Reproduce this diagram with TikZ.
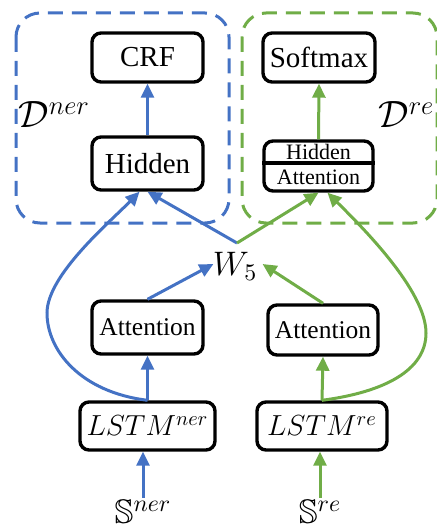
\RequirePackage{fix-cm}
\documentclass[tikz,border=0pt]{standalone}
\usepackage{amssymb}
\usepackage{fontspec}
\setmainfont{Liberation Serif}
\usetikzlibrary{arrows.meta}
\definecolor{blueC}{HTML}{4472C4}
\definecolor{greenC}{HTML}{70AD47}
\begin{document}
\begin{tikzpicture}[x=0.5pt,y=-0.5pt,
  box/.style={draw=black, line width=1.7pt, rounded corners=4.5pt, fill=white, inner sep=0pt, font=\fontsize{14.5}{17}\selectfont},
  attbox/.style={box, font=\fontsize{12.75}{15}\selectfont},
  small/.style={inner sep=0pt, font=\fontsize{11}{13}\selectfont},
  lab/.style={inner sep=1pt, font=\fontsize{17}{20}\selectfont},
  dlab/.style={anchor=base west, inner sep=0pt, font=\fontsize{19}{22}\selectfont},
  bl/.style={draw=blueC, line width=1.5pt, -{Triangle[length=7pt,width=6.5pt]}},
  gr/.style={draw=greenC, line width=1.5pt, -{Triangle[length=7pt,width=6.5pt]}},
  dbox/.style={dash pattern=on 7.5pt off 4.5pt, line width=1.5pt, rounded corners=12pt}]
\useasboundingbox (0,0) rectangle (437,529);

% dashed groups
\draw[dbox, draw=blueC] (16,13) rectangle (229,223);
\draw[dbox, draw=greenC] (242,13) rectangle (437,223);

% top nodes
\node[box, minimum width=55.5pt, minimum height=24.5pt] (crf) at (147.5,57.5) {CRF};
\node[box, minimum width=55.5pt, minimum height=26.5pt] (hid) at (147.5,163.5) {Hidden};
\node[box, minimum width=56pt, minimum height=24.5pt] (soft) at (319,57.5) {Softmax};
\node[box, minimum width=54.5pt, minimum height=25pt] (ha) at (318.5,166) {};
\draw[line width=1.7pt] (ha.west |- 0,163) -- (ha.east |- 0,163);
\node[small] (hat) at (318.5,152) {Hidden};
\node[small] (hab) at (318.5,177) {Attention};

\node[dlab] (dner) at (18,128) {$\mathcal{D}^{ner}$};
\node[dlab] (dre) at (378,128) {$\mathcal{D}^{re}$};

% lower nodes
\node[attbox, minimum width=55.5pt, minimum height=26.5pt] (att1) at (147.5,327.5) {Attention};
\node[attbox, minimum width=55pt, minimum height=25pt] (att2) at (323,330) {Attention};
\node[box, minimum width=67.5pt, minimum height=24pt] (lner) at (147.5,426) {$LSTM^{ner}$};
\node[box, minimum width=65pt, minimum height=24pt] (lre) at (322,426) {$LSTM^{re}$};
\node[lab] (sner) at (143,512) {$\mathbb{S}^{ner}$};
\node[lab] (sre) at (320,512) {$\mathbb{S}^{re}$};
\node[lab, inner sep=0pt] (w5) at (235,266) {$W_5$};
\coordinate (top) at (237,243);

% connectors
\draw[bl] (sner.north) -- (sner.north |- lner.south);
\draw[gr] (sre.north) -- (sre.north |- lre.south);
\draw[bl] (lner.north) -- (att1.south);
\draw[gr] (lre.north) -- (att2.south);
\draw[bl] (att1.north) -- ([xshift=0.5pt,yshift=1pt]w5.west);
\draw[gr] (att2.north) -- ([xshift=2.5pt,yshift=1pt]w5.east);
\draw[bl] (top) -- (hid.south);
\draw[gr] (top) -- (ha.south);
\draw[bl] (lner.north) .. controls (80,392) and (47,350) .. (47,313)
  .. controls (47,275) and (110,222) .. ([xshift=-4pt]hid.south);
\draw[gr] (lre.north) .. controls (385,392) and (426,370) .. (426,333)
  .. controls (426,290) and (360,225) .. ([xshift=4.5pt]ha.south);
\draw[bl] (hid.north) -- (crf.south);
\draw[gr] (ha.north) -- (soft.south);
\end{tikzpicture}
\end{document}
